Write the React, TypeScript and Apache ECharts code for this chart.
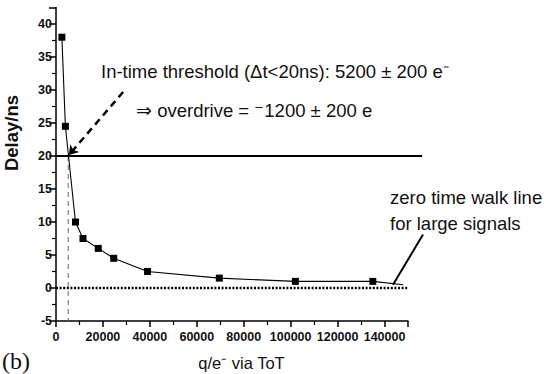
import React, { useEffect, useRef } from "react";
import * as echarts from "echarts";

// Measured points: charge (e-) vs delay (ns)
const chargeValues = [2500, 4000, 8300, 11500, 18000, 24600, 39000, 69600, 102000, 135000];
const delayValues = [38, 24.5, 10, 7.5, 6, 4.5, 2.5, 1.5, 1.0, 1.0];
// Fit curve continuation past the last point
const fitTail = [148000, 0.5];
// Threshold
const thresholdDelay = 20;
const thresholdCharge = 5200;
const thresholdLineEnd = 156000;
// dashed arrow from text to intersection
const dashedArrowStart = [28600, 29.7];
// "zero time walk" pointer
const walkPointerStart = [156400, 8.1];
const walkPointerEnd = [143600, 0.5];
// Axis ranges
const xMin = 0, xMax = 150000, xInterval = 20000;
const yMin = -5, yMax = 42.5, yInterval = 5;

const FONT = "'Liberation Sans', Arial, sans-serif";

export default function App() {
  const ref = useRef<HTMLDivElement>(null);
  useEffect(() => {
    if (!ref.current) return;
    const chart = echarts.init(ref.current, null, { renderer: "svg" });
    const mainData = chargeValues.map((c, i) => [c, delayValues[i]]);
    const fitData = [...mainData, { value: fitTail, symbol: "none" }];
    const axisLabelStyle = { color: "#111", fontFamily: FONT, fontSize: 12.5, fontWeight: "bold" as const };
    chart.setOption({
      animation: false,
      backgroundColor: "#fff",
      grid: { left: 56, right: 138, top: 7.5, bottom: 53 },
      xAxis: {
        type: "value",
        min: xMin,
        max: xMax,
        interval: xInterval,
        axisLine: { onZero: false, lineStyle: { color: "#000", width: 1.5 } },
        axisTick: { show: true, length: 6, lineStyle: { color: "#000", width: 1.5 } },
        minorTick: { show: true, splitNumber: 2, length: 4, lineStyle: { color: "#000", width: 1.2 } },
        splitLine: { show: false },
        axisLabel: { ...axisLabelStyle, margin: 9, showMaxLabel: false, formatter: (v: number) => String(v) },
      },
      yAxis: {
        type: "value",
        min: yMin,
        max: yMax,
        interval: yInterval,
        axisLine: { onZero: false, lineStyle: { color: "#000", width: 1.5 } },
        axisTick: { show: true, length: 7, lineStyle: { color: "#000", width: 1.5 } },
        minorTick: { show: true, splitNumber: 2, length: 4, lineStyle: { color: "#000", width: 1.2 } },
        splitLine: { show: false },
        axisLabel: { ...axisLabelStyle, margin: 4, showMaxLabel: false, formatter: (v: number) => String(v) },
      },
      series: [
        {
          type: "line",
          data: [[xMin, 0], [xMax, 0]],
          symbol: "none",
          silent: true,
          lineStyle: { color: "#000", width: 2.5, type: [2, 1.6] },
        },
        {
          type: "line",
          data: [[thresholdCharge, thresholdDelay], [thresholdCharge, yMin]],
          symbol: "none",
          silent: true,
          lineStyle: { color: "#666", width: 1, type: [5, 4] },
          markLine: {
            silent: true,
            symbol: ["none", "arrow"],
            symbolSize: 9,
            label: { show: false },
            lineStyle: { color: "#000", width: 2.5, type: [7, 5] },
            data: [[{ coord: dashedArrowStart }, { coord: [thresholdCharge + 300, thresholdDelay + 0.15] }]],
          },
        },
        {
          type: "line",
          data: fitData,
          symbol: "rect",
          symbolSize: 7,
          itemStyle: { color: "#000" },
          lineStyle: { color: "#000", width: 1.1 },
          silent: true,
        },
      ],
    });

    const px = (p: number[]) => chart.convertToPixel({ gridIndex: 0 }, p) as number[];
    const thrA = px([xMin, thresholdDelay]);
    const thrB = px([thresholdLineEnd, thresholdDelay]);
    const wA = px(walkPointerStart);
    const wB = px(walkPointerEnd);

    chart.setOption({
      graphic: [
        {
          type: "line",
          silent: true,
          shape: { x1: thrA[0], y1: thrA[1], x2: thrB[0], y2: thrB[1] },
          style: { stroke: "#000", lineWidth: 2 },
        },
        {
          type: "line",
          silent: true,
          shape: { x1: wA[0], y1: wA[1], x2: wB[0], y2: wB[1] },
          style: { stroke: "#000", lineWidth: 2 },
        },
        {
          type: "text",
          left: 101,
          top: 62,
          style: { text: "In-time threshold (Δt<20ns): 5200 ± 200 e⁻", font: `18.5px ${FONT}`, fill: "#111" },
        },
        {
          type: "text",
          left: 136,
          top: 101,
          style: { text: "⇒ overdrive = ⁻1200 ± 200 e", font: `18.5px ${FONT}`, fill: "#111" },
        },
        {
          type: "text",
          left: 390,
          top: 184,
          style: { text: "zero time walk line\nfor large signals", font: `18.5px ${FONT}`, lineHeight: 26.5, fill: "#111" },
        },
        {
          type: "text",
          x: 11,
          y: 133,
          rotation: Math.PI / 2,
          style: { text: "Delay/ns", font: `bold 18.5px ${FONT}`, fill: "#111", align: "center", verticalAlign: "middle" },
        },
        {
          type: "text",
          x: 241.5,
          y: 363,
          style: { text: "q/e⁻ via ToT", font: `16.5px ${FONT}`, fill: "#111", align: "center", verticalAlign: "middle" },
        },
        {
          type: "text",
          x: 2,
          y: 361,
          style: { text: "(b)", font: `24px 'Liberation Serif', 'DejaVu Serif', serif`, fill: "#111", verticalAlign: "middle" },
        },
      ],
    });
    return () => chart.dispose();
  }, []);
  return (
    <div
      ref={ref}
      style={{ position: "fixed", left: 0, top: 0, width: 546, height: 374, background: "#fff" }}
    />
  );
}
